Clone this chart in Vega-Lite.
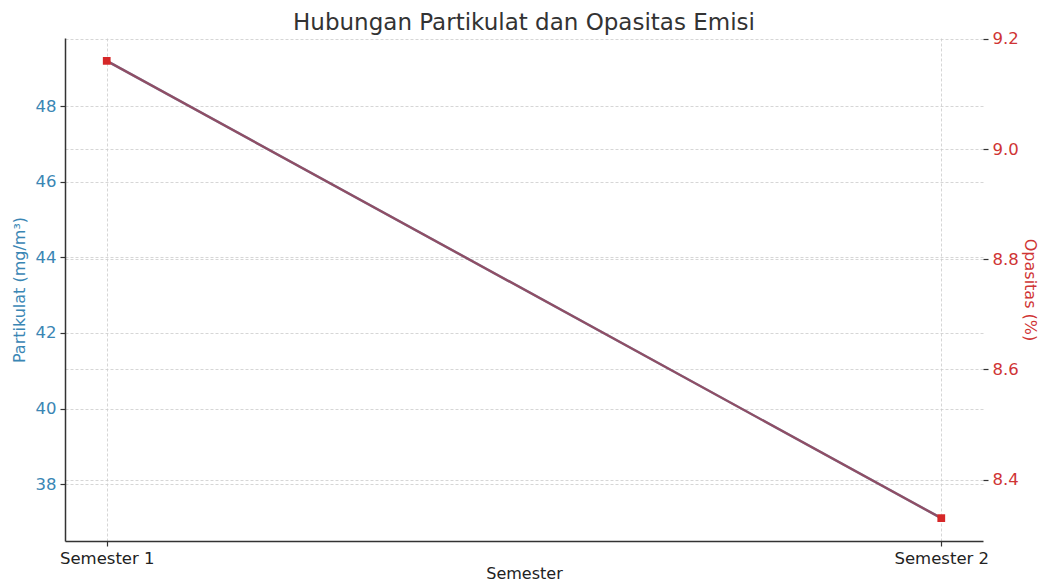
{
  "$schema": "https://vega.github.io/schema/vega-lite/v6.json",
  "width": 918,
  "height": 503,
  "autosize": {"type": "none"},
  "padding": {"left": 65, "top": 38, "right": 57, "bottom": 42},
  "background": "white",
  "config": {
    "font": "DejaVu Sans",
    "view": {"stroke": null},
    "axis": {
      "gridColor": "#cccccc",
      "gridDash": [3, 2],
      "gridWidth": 0.8,
      "labelFontSize": 16.5,
      "titleFontSize": 16,
      "titleFontWeight": "normal",
      "tickSize": 5,
      "tickWidth": 1.2,
      "domainWidth": 1.5,
      "labelPadding": 4
    }
  },
  "title": {
    "text": "Hubungan Partikulat dan Opasitas Emisi",
    "fontSize": 23,
    "fontWeight": "normal",
    "color": "#333333",
    "offset": -4,
    "anchor": "middle"
  },
  "data": {
    "values": [
      {"semester": "Semester 1", "partikulat": 49.2, "opasitas": 9.16},
      {"semester": "Semester 2", "partikulat": 37.1, "opasitas": 8.33}
    ]
  },
  "encoding": {
    "x": {
      "field": "semester",
      "type": "ordinal",
      "scale": {"type": "point", "padding": 0.05},
      "axis": {
        "title": "Semester",
        "labelAngle": 0,
        "labelColor": "#222222",
        "titleColor": "#222222",
        "domainColor": "#333333",
        "tickColor": "#333333",
        "grid": true,
        "titlePadding": -1
      }
    }
  },
  "layer": [
    {
      "layer": [
        {
          "mark": {"type": "line", "color": "#3a7fb0", "strokeWidth": 2.4},
          "encoding": {
            "y": {
              "field": "partikulat",
              "type": "quantitative",
              "scale": {"domain": [36.495, 49.805], "nice": false, "zero": false},
              "axis": {
                "orient": "left",
                "title": "Partikulat (mg/m³)",
                "values": [38, 40, 42, 44, 46, 48],
                "labelColor": "#3a86b4",
                "titleColor": "#3a86b4",
                "domainColor": "#333333",
                "tickColor": "#333333",
                "grid": true,
                "titlePadding": 8
              }
            }
          }
        },
        {
          "mark": {"type": "point", "shape": "circle", "filled": true, "color": "#3a7fb0", "size": 40, "opacity": 1},
          "encoding": {
            "y": {"field": "partikulat", "type": "quantitative"}
          }
        }
      ]
    },
    {
      "layer": [
        {
          "mark": {"type": "line", "color": "#d62728", "strokeWidth": 2.4, "opacity": 0.55},
          "encoding": {
            "y": {
              "field": "opasitas",
              "type": "quantitative",
              "scale": {"domain": [8.2885, 9.2015], "nice": false, "zero": false},
              "axis": {
                "orient": "right",
                "title": "Opasitas (%)",
                "values": [8.4, 8.6, 8.8, 9.0, 9.2],
                "format": ".1f",
                "labelColor": "#cf3434",
                "titleColor": "#cf3434",
                "domain": false,
                "tickColor": "#333333",
                "grid": true,
                "titlePadding": 3
              }
            }
          }
        },
        {
          "mark": {"type": "point", "shape": "square", "filled": true, "color": "#d62728", "size": 60, "opacity": 1},
          "encoding": {
            "y": {"field": "opasitas", "type": "quantitative"}
          }
        }
      ]
    }
  ],
  "resolve": {"scale": {"y": "independent"}}
}
